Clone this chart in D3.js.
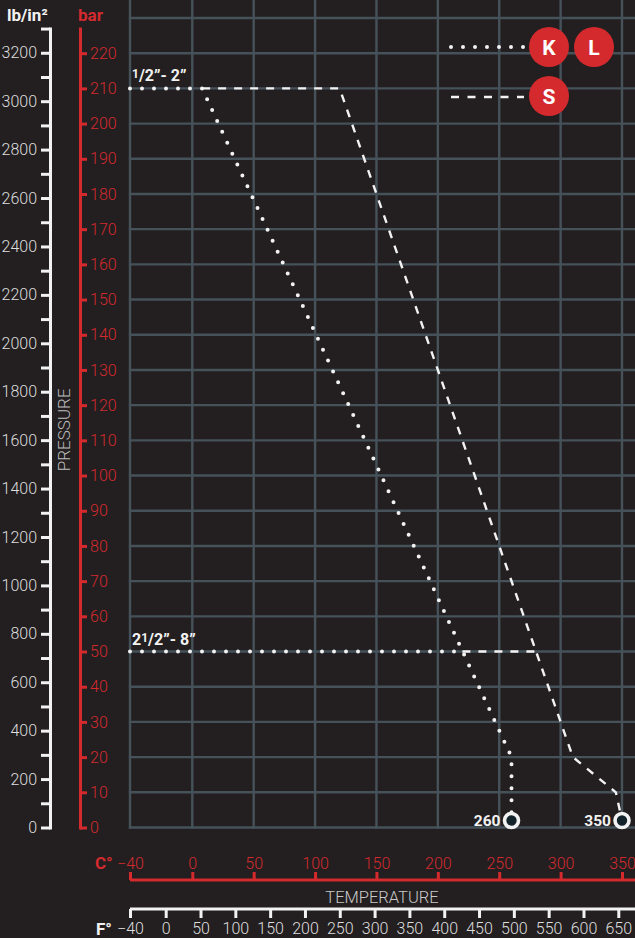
<!DOCTYPE html>
<html>
<head>
<meta charset="utf-8">
<script src="https://cdn.jsdelivr.net/npm/d3@7/dist/d3.min.js"></script>
<style>
  body { margin: 0; background: #231f20; }
  svg { display: block; }
  text { font-family: Roboto, "DejaVu Sans", sans-serif; }
</style>
</head>
<body>
<div id="chart"></div>
<script>
// tick values
const celsiusTicks = [-40, 0, 50, 100, 150, 200, 250, 300, 350];
const fahrenheitTicks = [-40, 0, 50, 100, 150, 200, 250, 300, 350, 400, 450, 500, 550, 600, 650];
const barTicks = [0, 10, 20, 30, 40, 50, 60, 70, 80, 90, 100, 110, 120, 130, 140, 150, 160, 170, 180, 190, 200, 210, 220];
const gridBars = [0, 10, 20, 30, 40, 50, 60, 70, 80, 90, 100, 110, 120, 130, 140, 150, 160, 170, 180, 190, 200, 210, 220, 230];
const psiLabels = [0, 200, 400, 600, 800, 1000, 1200, 1400, 1600, 1800, 2000, 2200, 2400, 2600, 2800, 3000, 3200];
const psiMinor = [100, 300, 500, 700, 900, 1100, 1300, 1500, 1700, 1900, 2100, 2300, 2500, 2700, 2900, 3100, 3300];

// pressure / temperature curves, [°C, bar]
const klSmall = [[-40, 210], [8, 210], [260, 20], [260, 2]];
const sSmall = [[8, 210], [120, 210], [310, 20], [345, 10], [350, 2]];
const klLarge = [[-40, 50], [220, 50]];
const sLarge = [[220, 50], [280, 50]];
const endpoints = [{ t: 260, bar: 2, label: "260" }, { t: 350, bar: 2, label: "350" }];
const sizeLabels = [{ bar: 210, big: "", text: "”- 2”" }, { bar: 50, big: "2", text: "”- 8”" }];

const width = 635, height = 938;
const red = "#d42a2e", white = "#f2f2f2", grid = "#46525a", bg = "#231f20";

const svg = d3.select("#chart").append("svg")
  .attr("width", width).attr("height", height);

svg.append("rect").attr("width", width).attr("height", height).attr("fill", bg);

const xC = d3.scaleLinear().domain([-40, 0, 350]).range([130, 192.3, 622]);
const xF = d3.scaleLinear().domain([-40, 0, 650]).range([130, 165.7, 618.3]);
const yBar = d3.scaleLinear().domain([0, 230]).range([827.5, 18]);
const barTop = 227;
const yBarAxis = yBar.copy().domain([0, barTop]).range([yBar(0), yBar(barTop)]);
const yPsi = d3.scaleLinear().domain([0, 3300]).range([yBar(0), yBar(barTop)]);

// grid
const gridG = svg.append("g").attr("stroke", grid).attr("stroke-width", 2.4);
gridG.selectAll("line.v").data(celsiusTicks).join("line")
  .attr("class", "v")
  .attr("x1", d => xC(d)).attr("x2", d => xC(d))
  .attr("y1", 0).attr("y2", yBar(0) + 1.2);
gridG.selectAll("line.h").data(gridBars).join("line")
  .attr("class", "h")
  .attr("x1", xC(-40) - 1.2).attr("x2", width)
  .attr("y1", d => yBar(d)).attr("y2", d => yBar(d));

// psi axis
const psiG = svg.append("g")
  .attr("transform", "translate(50,0)")
  .call(d3.axisLeft(yPsi)
    .tickValues(psiLabels.concat(psiMinor))
    .tickSize(9).tickSizeOuter(0).tickPadding(4)
    .tickFormat(d => psiLabels.includes(d) ? d : ""));
psiG.select(".domain").attr("stroke", white).attr("stroke-width", 3).attr("stroke-linecap", "square");
psiG.selectAll(".tick line").attr("stroke", white).attr("stroke-width", 3);
psiG.selectAll(".tick text").attr("fill", "#dedede").attr("font-size", 16).attr("font-weight", 300)
  .attr("font-family", "Roboto");

// bar axis
const barG = svg.append("g")
  .attr("transform", "translate(80,0)")
  .call(d3.axisRight(yBarAxis).tickValues(barTicks)
    .tickSize(7).tickSizeOuter(0).tickPadding(3));
barG.select(".domain").attr("stroke", red).attr("stroke-width", 3).attr("stroke-linecap", "square");
barG.selectAll(".tick line").attr("stroke", red).attr("stroke-width", 3);
barG.selectAll(".tick text").attr("fill", red).attr("font-size", 16).attr("font-weight", 300)
  .attr("font-family", "Roboto");

// unit labels
svg.append("text").attr("x", 7).attr("y", 21).attr("fill", white)
  .attr("font-size", 17).attr("font-weight", 700).text("lb/in²");
svg.append("text").attr("x", 78).attr("y", 21).attr("fill", red)
  .attr("font-size", 17).attr("font-weight", 700).text("bar");
svg.append("text")
  .attr("transform", `translate(70,${yBar(113)}) rotate(-90)`)
  .attr("text-anchor", "middle").attr("fill", "#bdbdbd")
  .attr("font-size", 17).attr("font-weight", 300).text("PRESSURE");

// celsius axis
const cY = 880;
svg.append("line").attr("x1", xC(-40)).attr("x2", width)
  .attr("y1", cY).attr("y2", cY).attr("stroke", red).attr("stroke-width", 3);
const cG = svg.append("g")
  .attr("transform", `translate(0,${cY})`)
  .call(d3.axisTop(xC).tickValues(celsiusTicks).tickSize(8).tickSizeOuter(0).tickPadding(3));
cG.select(".domain").remove();
cG.selectAll(".tick line").attr("stroke", red).attr("stroke-width", 3);
cG.selectAll(".tick text").attr("fill", red).attr("font-size", 16).attr("font-weight", 300)
  .attr("font-family", "Roboto");
svg.append("text").attr("x", 95).attr("y", 869).attr("fill", red)
  .attr("font-size", 17).attr("font-weight", 700).text("C°");

svg.append("text").attr("x", 382).attr("y", 903).attr("text-anchor", "middle")
  .attr("fill", "#c8c8c8").attr("font-size", 16.5).attr("font-weight", 300).text("TEMPERATURE");

// fahrenheit axis
const fY = 909;
svg.append("line").attr("x1", xF(-40)).attr("x2", width)
  .attr("y1", fY).attr("y2", fY).attr("stroke", white).attr("stroke-width", 3);
const fG = svg.append("g")
  .attr("transform", `translate(0,${fY})`)
  .call(d3.axisBottom(xF).tickValues(fahrenheitTicks).tickSize(9).tickSizeOuter(0).tickPadding(5));
fG.select(".domain").remove();
fG.selectAll(".tick line").attr("stroke", white).attr("stroke-width", 3);
fG.selectAll(".tick text").attr("fill", "#dedede").attr("font-size", 16).attr("font-weight", 300)
  .attr("font-family", "Roboto");
svg.append("text").attr("x", 96).attr("y", 935).attr("fill", white)
  .attr("font-size", 17).attr("font-weight", 700).text("F°");

// curves
const line = d3.line().x(d => xC(d[0])).y(d => yBar(d[1]));
const dotted = path => svg.append("path").datum(path).attr("d", line)
  .attr("fill", "none").attr("stroke", white).attr("stroke-width", 4)
  .attr("stroke-linecap", "round").attr("stroke-dasharray", "0 12");
const dashed = path => svg.append("path").datum(path).attr("d", line)
  .attr("fill", "none").attr("stroke", white).attr("stroke-width", 2.4)
  .attr("stroke-dasharray", "8 8");

dashed(sSmall);
dashed(sLarge);
dotted(klSmall);
dotted(klLarge);

// size labels
sizeLabels.forEach(s => {
  const t = svg.append("text").attr("x", xC(-40) + 2).attr("y", yBar(s.bar) - 7)
    .attr("fill", white).attr("font-size", 16).attr("font-weight", 700);
  if (s.big) t.append("tspan").text(s.big);
  t.append("tspan").attr("font-size", 12).attr("dy", -3).text("1");
  t.append("tspan").attr("dy", 3).text("/2");
  t.append("tspan").text(s.text);
});

// end points
const ep = svg.append("g").selectAll("g").data(endpoints).join("g")
  .attr("transform", d => `translate(${xC(d.t)},${yBar(d.bar)})`);
ep.append("circle").attr("r", 7).attr("fill", "#13232b")
  .attr("stroke", white).attr("stroke-width", 3.6);
ep.append("text").attr("x", -11).attr("y", 6).attr("text-anchor", "end")
  .attr("fill", white).attr("font-size", 15.5).attr("font-weight", 700).text(d => d.label);

// legend
const legend = [
  { keys: ["K", "L"], style: "dot", y: 47 },
  { keys: ["S"], style: "dash", y: 96 }
];
legend.forEach(l => {
  const ly = l.style === "dot" ? l.y : l.y + 1;
  svg.append("line").attr("x1", 451).attr("x2", 524).attr("y1", ly).attr("y2", ly)
    .attr("stroke", white)
    .attr("stroke-width", l.style === "dot" ? 4 : 2.4)
    .attr("stroke-linecap", l.style === "dot" ? "round" : "butt")
    .attr("stroke-dasharray", l.style === "dot" ? "0 12" : "8 8.5");
  l.keys.forEach((k, i) => {
    const cx = 549 + i * 45;
    svg.append("circle").attr("cx", cx).attr("cy", l.y).attr("r", 20).attr("fill", red);
    svg.append("text").attr("x", cx).attr("y", l.y + 7.5).attr("text-anchor", "middle")
      .attr("fill", "#fff").attr("font-size", 21).attr("font-weight", 700).text(k);
  });
});
</script>
</body>
</html>
